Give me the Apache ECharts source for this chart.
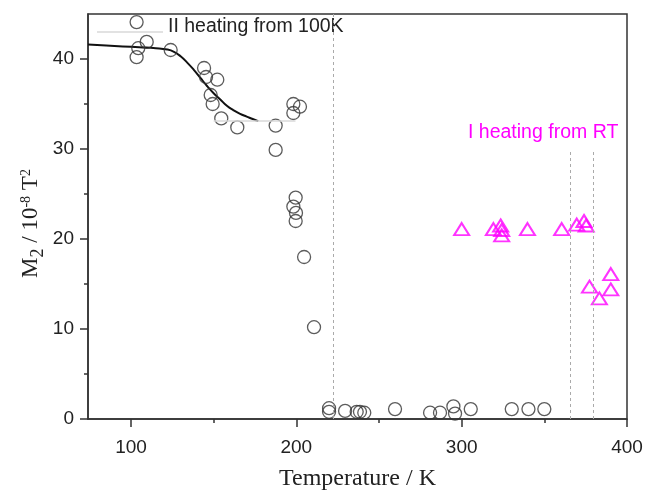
<!DOCTYPE html>
<html>
<head>
<meta charset="utf-8">
<script src="https://cdn.jsdelivr.net/npm/echarts@6/dist/echarts.min.js"></script>
<style>html,body{margin:0;padding:0;background:#fff}#c{width:646px;height:493px}</style>
</head>
<body>
<div id="c"></div>
<script>
// ---- data ----
const circleT = [103.4,109.5,104.4,103.4,124.0,144.2,145.4,152.2,148.2,149.4,154.6,164.3,187.5,187.5,198.2,202.2,198.2,199.6,198.2,199.8,199.6,204.7,210.7,219.8,219.8,229.5,236.5,238.5,241.1,259.7,280.9,286.9,295.0,296.0,305.5,330.3,340.4,350.0];
const circleV = [44.1,41.9,41.2,40.2,41.0,39.0,38.0,37.7,36.0,35.0,33.4,32.4,32.6,29.9,35.0,34.7,34.0,24.6,23.6,22.9,22.0,18.0,10.2,1.2,0.8,0.9,0.8,0.8,0.7,1.1,0.7,0.7,1.4,0.6,1.1,1.1,1.1,1.1];
const triT = [300.0,319.2,323.6,324.2,324.2,339.8,360.5,369.6,374.0,375.3,377.3,383.3,390.2,390.2];
const triV = [21.1,21.1,21.5,21.0,20.4,21.1,21.1,21.6,22.0,21.5,14.7,13.4,16.1,14.4];
const curveT = [74,85,95,105,115,122,126,130,134,138,142,146,150,154,158,162,166,170,174,177];
const curveV = [41.6,41.5,41.4,41.3,41.2,41.05,40.8,40.3,39.6,38.8,37.9,37.0,36.2,35.5,34.8,34.3,33.9,33.6,33.3,33.1];
const xMajor = [100,200,300,400];
const xMinor = [150,250,350];
const yMajor = [0,10,20,30,40];
const yMinor = [5,15,25,35];
const dashFull = [222.4];
const dashPartial = [365.6,379.3];
const dashPartialTop = 30;
const greyRef = [[150,33.1],[199.5,33.1]];
const labelII = 'II heating from 100K';
const labelI = 'I heating from RT';
// ---------------------------------------

const zip = (a,b) => a.map((v,i)=>[v,b[i]]);
const chart = echarts.init(document.getElementById('c'), null, {renderer:'canvas'});
const gridRect = {left:88, right:19, top:14, bottom:74, containLabel:false, outerBoundsMode:'none'};
const sans = 'Liberation Sans, Arial, sans-serif';
const serif = 'Liberation Serif, Times New Roman, serif';

const markLines = [];
dashFull.forEach(x => markLines.push({xAxis:x}));
dashPartial.forEach(x => markLines.push([{coord:[x,0]},{coord:[x,dashPartialTop]}]));

chart.setOption({
  animation:false,
  grid:[
    Object.assign({show:true, borderColor:'#333', borderWidth:1.5, backgroundColor:'transparent'}, gridRect),
    Object.assign({show:false}, gridRect)
  ],
  xAxis:[
    {type:'value', gridIndex:0, min:74, max:400,
     axisLine:{show:true, onZero:false, lineStyle:{color:'#333', width:1.5}},
     axisTick:{show:true, length:8, customValues:xMajor, lineStyle:{color:'#333', width:1.5}},
     axisLabel:{customValues:xMajor, color:'#222', fontSize:19, fontFamily:sans, margin:19},
     splitLine:{show:false},
     name:'Temperature / K', nameLocation:'middle', nameGap:48, nameMoveOverlap:false,
     nameTextStyle:{fontFamily:serif, fontSize:24, color:'#222'}},
    {type:'value', gridIndex:1, min:74, max:400,
     axisLine:{show:false, onZero:false},
     axisTick:{show:true, length:4, customValues:xMinor, lineStyle:{color:'#333', width:1.5}},
     axisLabel:{show:false}, splitLine:{show:false}}
  ],
  yAxis:[
    {type:'value', gridIndex:0, min:0, max:45,
     axisLine:{show:true, onZero:false, lineStyle:{color:'#333', width:1.5}},
     axisTick:{show:true, length:8, customValues:yMajor, lineStyle:{color:'#333', width:1.5}},
     axisLabel:{customValues:yMajor, color:'#222', fontSize:19, fontFamily:sans, margin:14},
     splitLine:{show:false},
     name:'{m|M}{sub|2}{m| / 10}{sup|-8}{m| T}{sup|2}', nameLocation:'middle', nameGap:44, nameRotate:90,
     nameMoveOverlap:false,
     nameTextStyle:{fontFamily:serif, fontSize:23, color:'#222', padding:[0,0,0,-14],
       rich:{
         m:{fontFamily:serif, fontSize:23, color:'#222', verticalAlign:'middle', lineHeight:27},
         sub:{fontFamily:serif, fontSize:18, color:'#222', verticalAlign:'bottom', lineHeight:27, padding:[0,0,-3,0]},
         sup:{fontFamily:serif, fontSize:14, color:'#222', verticalAlign:'top', lineHeight:27, padding:[2,0,0,0]}
       }}},
    {type:'value', gridIndex:1, min:0, max:45,
     axisLine:{show:false, onZero:false},
     axisTick:{show:true, length:4, customValues:yMinor, lineStyle:{color:'#333', width:1.5}},
     axisLabel:{show:false}, splitLine:{show:false}}
  ],
  series:[
    {type:'line', xAxisIndex:0, yAxisIndex:0, data:zip(curveT,curveV), smooth:true, showSymbol:false,
     lineStyle:{color:'#111', width:2}, z:3,
     markLine:{silent:true, symbol:['none','none'], label:{show:false},
       lineStyle:{color:'#d9d9d9', width:1.5, type:'solid'},
       data:[[{coord:greyRef[0]},{coord:greyRef[1]}]]}},
    {type:'scatter', xAxisIndex:0, yAxisIndex:0, data:zip(circleT,circleV), symbol:'circle', symbolSize:13,
     itemStyle:{color:'transparent', borderColor:'#333', borderWidth:1.3}, z:4,
     markLine:{silent:true, symbol:['none','none'], label:{show:false},
       lineStyle:{color:'#aaa', width:1, type:[3,3]}, data:markLines}},
    {type:'scatter', xAxisIndex:0, yAxisIndex:0, data:zip(triT,triV), symbol:'triangle', symbolSize:[15,12],
     itemStyle:{color:'transparent', borderColor:'#ff00ff', borderWidth:2}, z:4}
  ],
  graphic:[
    {type:'line', shape:{x1:97, y1:32, x2:163, y2:32}, style:{stroke:'#d9d9d9', lineWidth:1.5}, silent:true},
    {type:'text', left:168, top:17, style:{text:labelII, fill:'#222', font:'19.5px ' + sans}},
    {type:'text', left:468, top:123, style:{text:labelI, fill:'#ff00ff', font:'19.5px ' + sans}}
  ]
});
</script>
</body>
</html>
